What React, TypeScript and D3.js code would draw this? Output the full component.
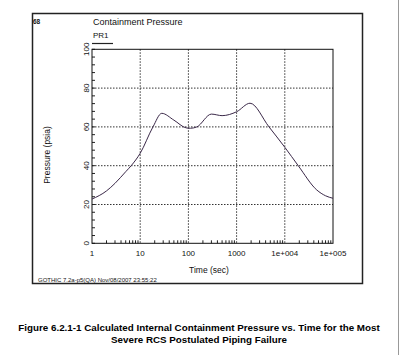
import React from "react";
import * as d3 from "d3";

const timeSec = [1, 2, 3, 5, 6.5, 10, 18.4, 28, 50, 90, 110, 150, 300, 500, 1000, 1900, 4700, 10000, 19000, 46000, 70000, 100000];
const pressure = [22.8, 27, 30.9, 36.9, 40, 46.4, 60, 67, 63.5, 59.5, 59.3, 60, 66.6, 65.8, 67.8, 72.2, 60, 49.5, 40, 27.5, 24.5, 23.2];
const xTickValues = [1, 10, 100, 1000, 10000, 100000];
const xTickLabels = ["1", "10", "100", "1000", "1e+004", "1e+005"];
const yTickValues = [0, 20, 40, 60, 80, 100];

const FONT = "'Liberation Sans', Arial, sans-serif";

export default function App() {
  const left = 92, right = 333, top = 49.3, bottom = 243.3;
  const x = d3.scaleLog().domain([1, 100000]).range([left, right]);
  const y = d3.scaleLinear().domain([0, 100]).range([bottom, top]);
  const pts = timeSec.map((t, i) => [t, pressure[i]] as [number, number]);
  const line = d3.line<[number, number]>().x(d => x(d[0])).y(d => y(d[1])).curve(d3.curveMonotoneX);
  const minorX: number[] = [];
  for (let e = 0; e < 5; e++) for (let m = 2; m <= 9; m++) minorX.push(m * Math.pow(10, e));
  const minorY = d3.range(0, 101, 4);
  return (
    <svg width={400} height={355} style={{ position: "absolute", left: 0, top: 0 }}>
      <rect x={0} y={0} width={400} height={355} fill="#fff" />
      <line x1={398.5} y1={0} x2={398.5} y2={355} stroke="#999" strokeWidth={1} />
      <rect x={32.5} y={13.5} width={330} height={270} fill="none" stroke="#222" strokeWidth={1.5} />
      <text x={33} y={24} fontFamily={FONT} fontSize={6.5} fontWeight="bold" fill="#111">68</text>
      <text x={93} y={25} fontFamily={FONT} fontSize={9} fill="#111">Containment Pressure</text>
      <text x={93} y={38} fontFamily={FONT} fontSize={8} fill="#111">PR1</text>
      <line x1={92} y1={43.5} x2={113} y2={43.5} stroke="#222" strokeWidth={1.2} />
      {xTickValues.slice(1, -1).map(v => (
        <line key={"gx" + v} x1={x(v)} x2={x(v)} y1={top} y2={bottom} stroke="#333" strokeWidth={1} strokeDasharray="1.5,1.5" />
      ))}
      {yTickValues.slice(1, -1).map(v => (
        <line key={"gy" + v} x1={left} x2={right} y1={y(v)} y2={y(v)} stroke="#333" strokeWidth={1} strokeDasharray="1.5,1.5" />
      ))}
      {minorX.map(v => (
        <line key={"mx" + v} x1={x(v)} x2={x(v)} y1={bottom} y2={bottom - 3} stroke="#222" strokeWidth={1} />
      ))}
      {minorY.map(v => (
        <line key={"my" + v} x1={left} x2={left + 3} y1={y(v)} y2={y(v)} stroke="#222" strokeWidth={1} />
      ))}
      <rect x={left} y={top} width={right - left} height={bottom - top} fill="none" stroke="#111" strokeWidth={1} />
      <path d={line(pts) || ""} fill="none" stroke="#3a2848" strokeWidth={1} />
      {yTickValues.map(v => (
        <text key={"yl" + v} transform={`translate(${89},${y(v)}) rotate(-90)`} textAnchor="middle" fontFamily={FONT} fontSize={8} fill="#111">{v}</text>
      ))}
      {xTickValues.map((v, i) => (
        <text key={"xl" + v} x={x(v)} y={255.5} textAnchor="middle" fontFamily={FONT} fontSize={8} fill="#111">{xTickLabels[i]}</text>
      ))}
      <text transform={`translate(${50},${155}) rotate(-90)`} textAnchor="middle" fontFamily={FONT} fontSize={8.5} fill="#111">Pressure (psia)</text>
      <text x={209} y={273} textAnchor="middle" fontFamily={FONT} fontSize={8.5} fill="#111">Time (sec)</text>
      <text x={38} y={282} fontFamily={FONT} fontSize={6} fill="#111">GOTHIC 7.2a-p5(QA) Nov/08/2007 23:55:22</text>
      <text x={199} y={331} textAnchor="middle" fontFamily={FONT} fontSize={9.8} fontWeight="bold" fill="#000">Figure 6.2.1-1  Calculated Internal Containment Pressure vs. Time for the Most</text>
      <text x={199} y={343} textAnchor="middle" fontFamily={FONT} fontSize={9.8} fontWeight="bold" fill="#000">Severe RCS Postulated Piping Failure</text>
    </svg>
  );
}
